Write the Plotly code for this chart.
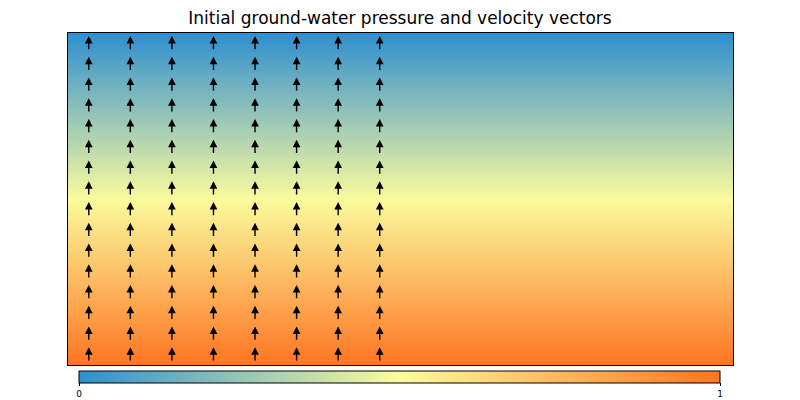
import plotly.graph_objects as go

# domain (equal aspect), 16 x 8
x_range = [0, 16]
y_range = [0, 8]

# pressure field: 0 at top, 1 at bottom, varies only with depth
press_y = [0, 8]
press_x = [0, 16]
pressure = [1, 0]

# velocity vectors (all pointing straight up, same magnitude)
vec_x = [0.5, 1.5, 2.5, 3.5, 4.5, 5.5, 6.5, 7.5]
vec_y = [0.25, 0.75, 1.25, 1.75, 2.25, 2.75, 3.25, 3.75,
         4.25, 4.75, 5.25, 5.75, 6.25, 6.75, 7.25, 7.75]
vel_u = 0.0
vel_v = 0.36

colors = [[0.0, "#2f8fd0"], [0.5, "#fbfb9d"], [1.0, "#ff7522"]]

fig = go.Figure()
fig.add_trace(go.Heatmap(
    x=press_x, y=press_y,
    z=[[p, p] for p in pressure],
    zmin=0, zmax=1, zsmooth="best",
    colorscale=colors, hoverinfo="skip",
    colorbar=dict(
        orientation="h", x=0.4985, xanchor="center",
        y=-0.018, yanchor="top", len=0.964, lenmode="fraction",
        thickness=12, outlinewidth=1, outlinecolor="black",
        xpad=0, ypad=0,
        tickvals=[0, 1], ticktext=["0", "1"],
        ticks="outside", ticklen=3, tickcolor="black",
        tickfont=dict(size=9, color="black", family="DejaVu Sans"),
    ),
))

anns = []
for xx in vec_x:
    for yy in vec_y:
        anns.append(dict(
            x=xx + vel_u / 2, y=yy + vel_v / 2,
            ax=xx - vel_u / 2, ay=yy - vel_v / 2,
            xref="x", yref="y", axref="x", ayref="y",
            text="", showarrow=True, arrowhead=2, arrowsize=1.1,
            arrowwidth=1.4, arrowcolor="black", standoff=0,
        ))

# page adds an 8px body margin, so margins are shifted by 8px
fig.update_layout(
    width=800, height=400,
    margin=dict(l=60, r=75, t=25, b=43, autoexpand=False),
    paper_bgcolor="white", plot_bgcolor="white",
    title=dict(text="Initial ground-water pressure and velocity vectors",
               x=0.49, xanchor="center", y=0.974, yanchor="middle",
               font=dict(family="DejaVu Sans", size=17, color="black")),
    annotations=anns,
    showlegend=False,
)
fig.update_xaxes(range=x_range, showticklabels=False, showgrid=False,
                 zeroline=False, showline=True, linecolor="black",
                 linewidth=1, mirror=True, ticks="")
fig.update_yaxes(range=y_range, showticklabels=False, showgrid=False,
                 zeroline=False, showline=True, linecolor="black",
                 linewidth=1, mirror=True, ticks="")

fig.write_html("out.html")
